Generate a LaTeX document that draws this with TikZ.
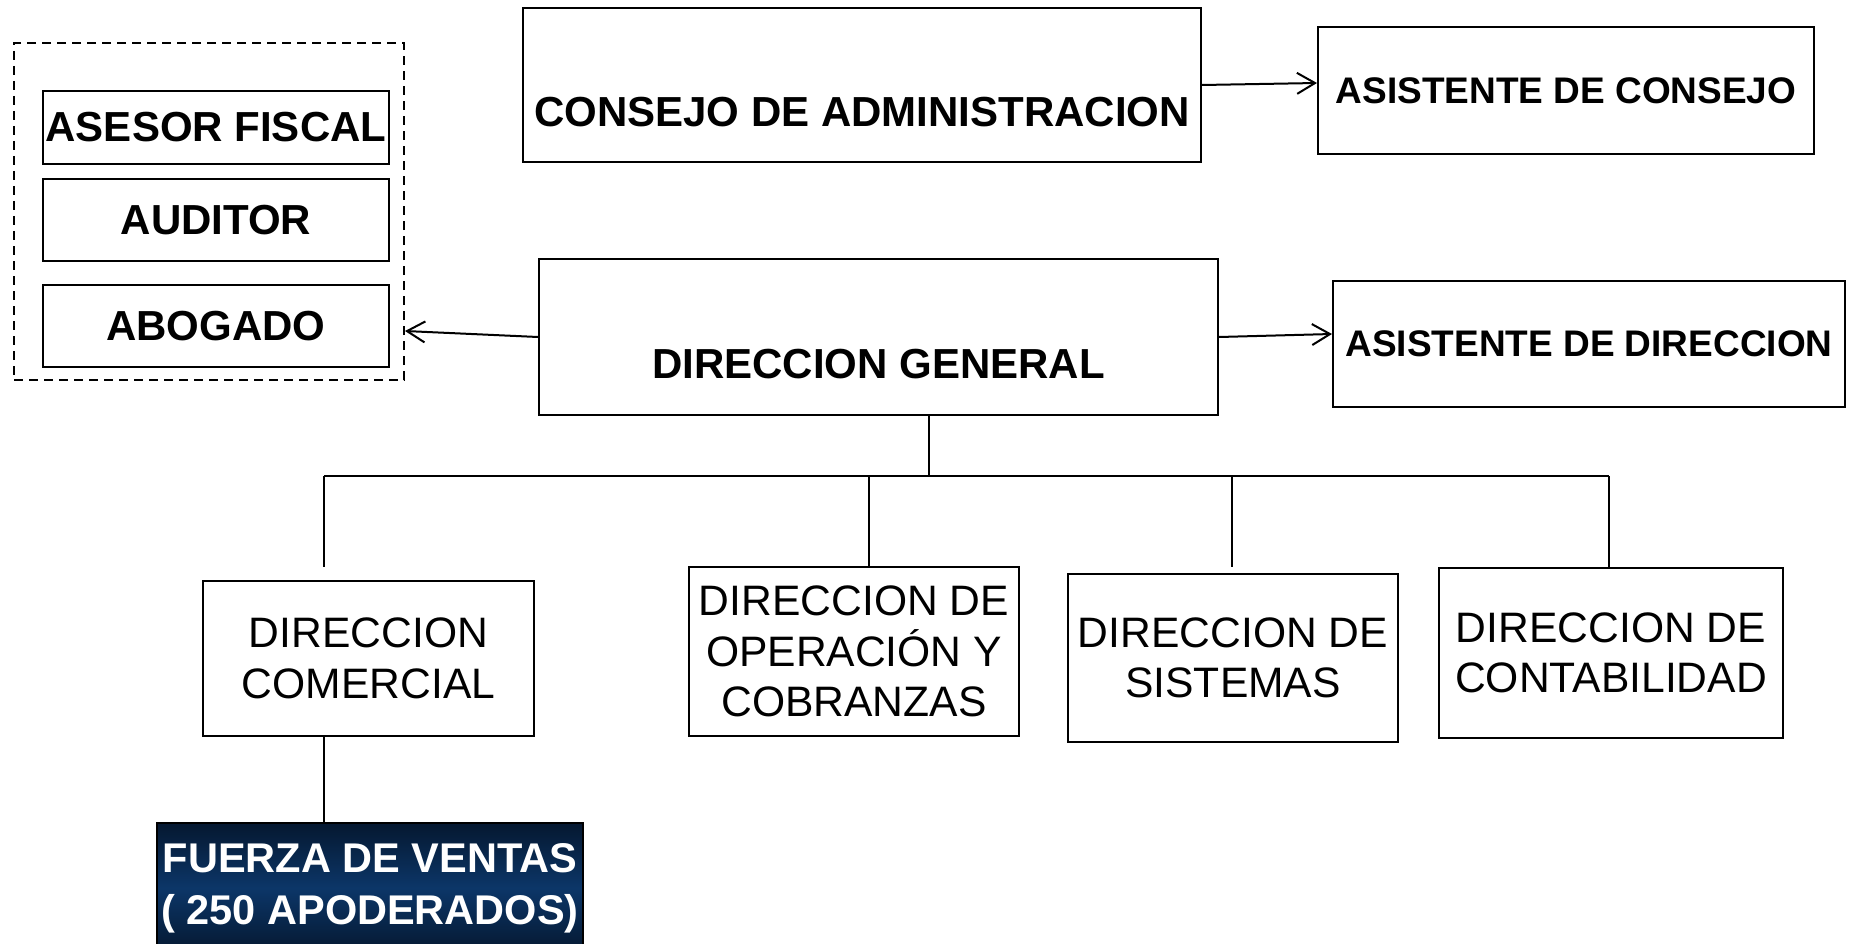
\documentclass[tikz,border=0pt]{standalone}
\usepackage{fontspec}
\setmainfont{Liberation Sans}
\usetikzlibrary{arrows.meta}
\definecolor{navydark}{RGB}{5,24,48}
\definecolor{navymid}{RGB}{12,54,104}
\tikzset{
  box/.style={draw, line width=2pt, inner sep=0pt, align=center},
  staffbox/.style={box, font=\fontsize{42}{50}\selectfont\bfseries},
  dirbox/.style={box, font=\fontsize{42.6}{50.5}\selectfont},
  tree/.style={line width=2.5pt},
  arr/.style={line width=2pt, -{Straight Barb[length=18pt, width=21pt, line width=2pt]}}
}
\begin{document}
\begin{tikzpicture}[x=1pt, y=-1pt]
    \clip (0,0) rectangle (1852,944);
    % Staff (dashed group)
    \node[draw, dashed, dash pattern=on 9pt off 6pt, line width=2pt,
          minimum width=390pt, minimum height=337pt] (staff) at (209,211.5) {};
    \node[staffbox, minimum width=346pt, minimum height=73pt] (asesor)  at (216,127.5) {ASESOR FISCAL};
    \node[staffbox, minimum width=346pt, minimum height=82pt] (auditor) at (216,220) {AUDITOR};
    \node[staffbox, minimum width=346pt, minimum height=82pt] (abogado) at (216,326) {ABOGADO};
    % Top level
    \node[box, minimum width=678pt, minimum height=154pt,
          label={[font=\fontsize{42}{50}\selectfont\bfseries, yshift=-27pt]center:CONSEJO DE ADMINISTRACION}]
          (consejo) at (862,85) {};
    \node[box, font=\fontsize{37}{44}\selectfont\bfseries,
          minimum width=496pt, minimum height=127pt] (asistcons) at (1566,90.5) {ASISTENTE DE CONSEJO};
    \node[box, minimum width=679pt, minimum height=156pt,
          label={[font=\fontsize{42}{50}\selectfont\bfseries, yshift=-27pt]center:DIRECCION GENERAL}]
          (dg) at (878.5,337) {};
    \node[box, font=\fontsize{37}{44}\selectfont\bfseries,
          minimum width=512pt, minimum height=126pt] (asistdir) at (1589,344) {ASISTENTE DE DIRECCION};
    % Direcciones
    \node[dirbox, minimum width=331pt, minimum height=155pt] (comercial) at (368.5,658.5) {DIRECCION\\COMERCIAL};
    \node[dirbox, minimum width=330pt, minimum height=169pt] (operacion) at (854,651.5) {DIRECCION DE\\OPERACIÓN Y\\COBRANZAS};
    \node[dirbox, minimum width=330pt, minimum height=168pt] (sistemas)  at (1233,658) {DIRECCION DE\\SISTEMAS};
    \node[dirbox, minimum width=344pt, minimum height=170pt] (contab)    at (1611,653) {DIRECCION DE\\CONTABILIDAD};
    % Sales force
    \node[box, line width=1.5pt, text=white, font=\fontsize{41.5}{52}\selectfont\bfseries,
          top color=navydark, bottom color=navydark, middle color=navymid,
          minimum width=426pt, minimum height=130pt] (fuerza) at (370,888) {FUERZA DE VENTAS\\( 250 APODERADOS)};
    % Tree lines
    \coordinate (top) at (929,476);
    \coordinate (d1) at (324,567);
    \coordinate (d2) at (869,567);
    \coordinate (d3) at (1232,567);
    \coordinate (d4) at (1609,567);
    \draw[tree] (dg.south -| top) -- (top);
    \draw[tree] (d1 |- top) -- (d4 |- top);
    \foreach \d in {d1,d2,d3,d4}
      \draw[tree] (\d |- top) -- (\d);
    \draw[tree] (comercial.south -| d1) -- (fuerza.north -| d1);
    % Arrows
    \draw[arr] (consejo.east) -- ([yshift=2pt]consejo.east -| asistcons.west);
    \draw[arr] (dg.east) -- ([yshift=3pt]dg.east -| asistdir.west);
    \draw[arr] (dg.west) -- ([yshift=6pt]dg.west -| staff.east);
\end{tikzpicture}
\end{document}
